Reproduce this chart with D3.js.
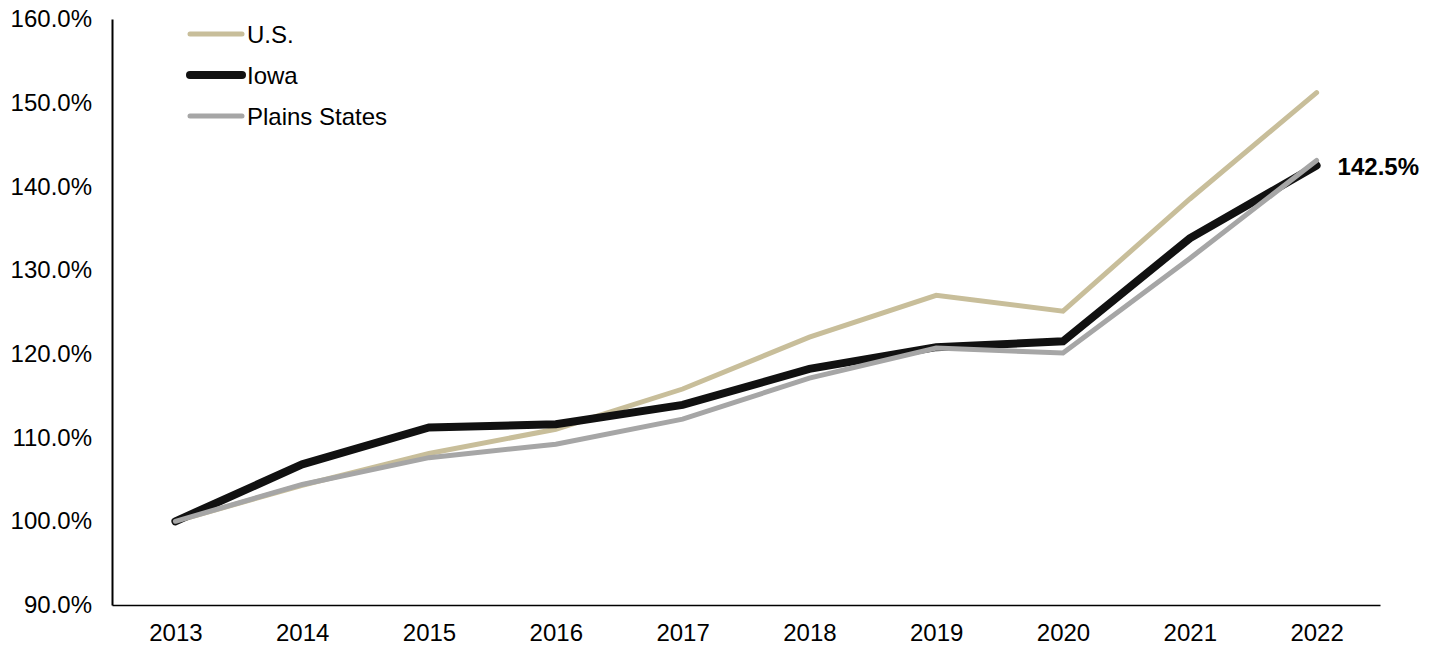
<!DOCTYPE html>
<html>
<head>
<meta charset="utf-8">
<script src="https://cdn.jsdelivr.net/npm/d3@7"></script>
<style>
  body { margin: 0; background: #fff; }
  text { font-family: "Liberation Sans", Arial, sans-serif; fill: #000; }
</style>
</head>
<body>
<svg width="1437" height="648"></svg>
<script>
var years = [2013, 2014, 2015, 2016, 2017, 2018, 2019, 2020, 2021, 2022];
var us     = [100, 104.3, 108.1, 111.0, 115.8, 122.0, 127.0, 125.1, 138.5, 151.2];
var iowa   = [100, 106.8, 111.2, 111.6, 113.9, 118.2, 120.8, 121.5, 133.8, 142.5];
var plains = [100, 104.4, 107.6, 109.2, 112.2, 117.1, 120.7, 120.1, 131.4, 143.1];
var yTicks = [90, 100, 110, 120, 130, 140, 150, 160];

var series = [
  { name: "U.S.", values: us, color: "#c8be9a", width: 5 },
  { name: "Iowa", values: iowa, color: "#111111", width: 8 },
  { name: "Plains States", values: plains, color: "#a6a6a6", width: 5 }
];

var svg = d3.select("svg");
var m = { left: 112, right: 1380, top: 19, bottom: 605 };

var x = d3.scalePoint().domain(years).range([m.left, m.right]).padding(0.5);
var y = d3.scaleLinear().domain([90, 160]).range([m.bottom, m.top]);

// axes
svg.append("g")
  .attr("transform", "translate(0," + m.bottom + ")")
  .call(d3.axisBottom(x).tickSize(0).tickPadding(19))
  .call(function(g) {
    g.select(".domain").attr("stroke", "#000").attr("stroke-width", 1.5);
    g.selectAll("text").style("font-size", "24px").style("font-family", "Liberation Sans, Arial, sans-serif");
  });

svg.append("g")
  .attr("transform", "translate(" + m.left + ",0)")
  .call(d3.axisLeft(y).tickValues(yTicks).tickSize(0).tickPadding(20)
    .tickFormat(function(d) { return d.toFixed(1) + "%"; }))
  .call(function(g) {
    g.select(".domain").attr("stroke", "#000").attr("stroke-width", 2);
    g.selectAll("text").style("font-size", "24px").style("font-family", "Liberation Sans, Arial, sans-serif");
  });

var line = d3.line()
  .x(function(d, i) { return x(years[i]); })
  .y(function(d) { return y(d); });

svg.selectAll(".series")
  .data(series)
  .enter().append("path")
    .attr("class", "series")
    .attr("d", function(d) { return line(d.values); })
    .attr("fill", "none")
    .attr("stroke", function(d) { return d.color; })
    .attr("stroke-width", function(d) { return d.width; })
    .attr("stroke-linecap", "round")
    .attr("stroke-linejoin", "miter");

// end label
svg.append("text")
  .attr("x", x(2022) + 21)
  .attr("y", y(iowa[iowa.length - 1]))
  .attr("dy", "0.38em")
  .style("font-size", "24px")
  .style("font-weight", "bold")
  .text(iowa[iowa.length - 1].toFixed(1) + "%");

// legend
var legend = svg.selectAll(".legend")
  .data(series)
  .enter().append("g")
    .attr("class", "legend")
    .attr("transform", function(d, i) { return "translate(190," + (34 + i * 41) + ")"; });

legend.append("line")
  .attr("x1", 0).attr("x2", 52)
  .attr("stroke", function(d) { return d.color; })
  .attr("stroke-width", function(d) { return d.width; })
  .attr("stroke-linecap", "round");

legend.append("text")
  .attr("x", 57)
  .attr("dy", "0.36em")
  .style("font-size", "24px")
  .text(function(d) { return d.name; });
</script>
</body>
</html>
